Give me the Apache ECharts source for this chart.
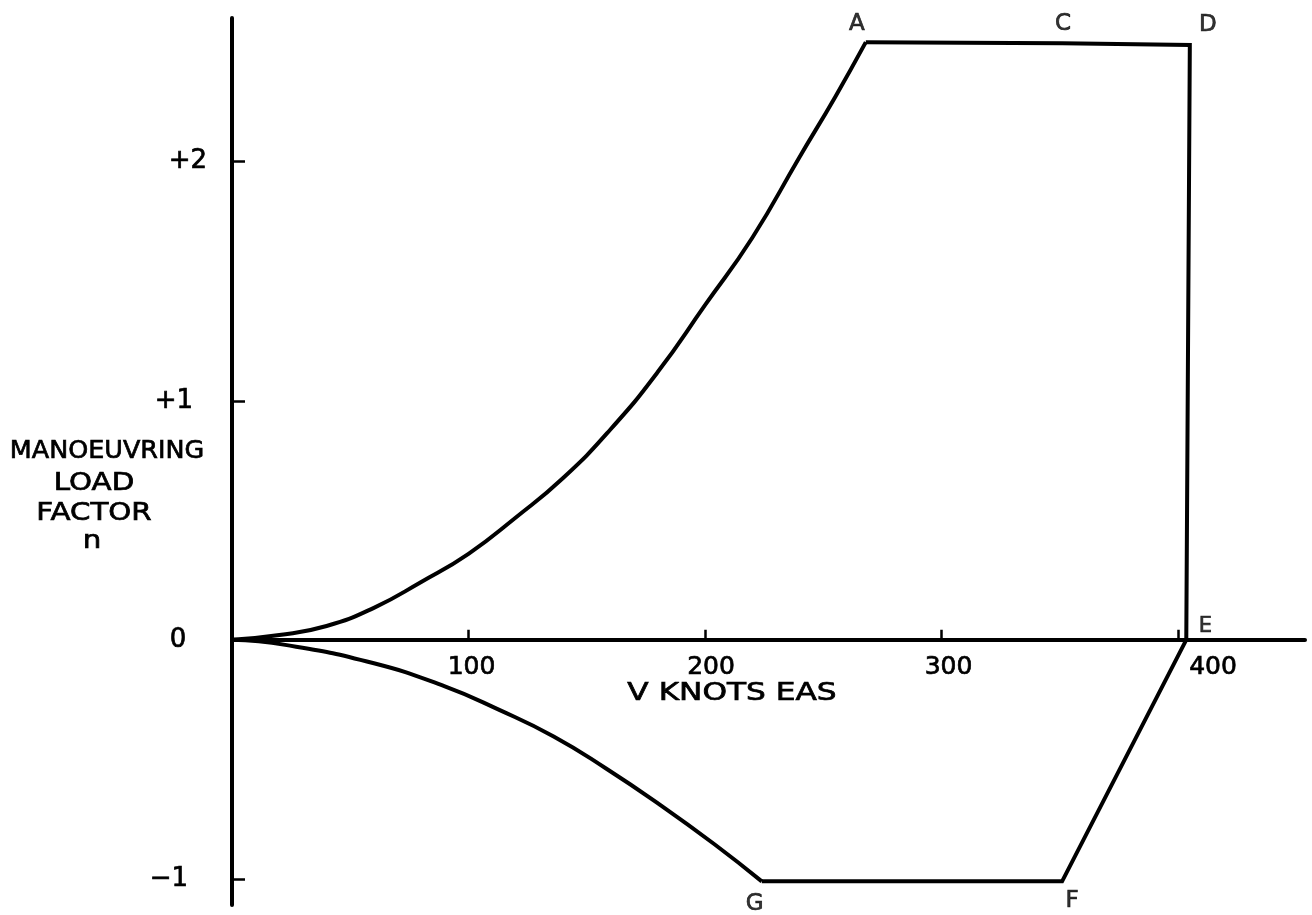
<!DOCTYPE html>
<html>
<head>
<meta charset="utf-8">
<script src="https://cdn.jsdelivr.net/npm/echarts@6/dist/echarts.min.js"></script>
<style>
  html, body { margin: 0; padding: 0; background: #ffffff; }
  #chart { width: 1312px; height: 915px; }
</style>
</head>
<body>
<div id="chart"></div>
<script>
// Positive stall boundary, from the origin up to A (speed in knots EAS, load factor n)
const upperSpeed = [0, 20, 40, 60, 80, 100, 120, 140, 160, 180, 200, 220, 240, 255, 268];
const upperLoad  = [0, 0.02, 0.058, 0.134, 0.242, 0.36, 0.512, 0.677, 0.88, 1.12, 1.40, 1.682, 2.02, 2.27, 2.50];

// Negative stall boundary, from the origin down to G
const lowerSpeed = [0, 22.5, 60, 90, 113, 136, 158, 181, 204, 224];
const lowerLoad  = [0, -0.021, -0.098, -0.195, -0.293, -0.404, -0.537, -0.69, -0.855, -1.01];

// Corners of the flight envelope, traced A -> C -> D -> E -> F -> G
const vertexNames = ['A', 'C', 'D', 'E', 'F', 'G'];
const vertexSpeed = [268, 351, 405, 403.5, 351, 224];
const vertexLoad  = [2.50, 2.495, 2.488, 0, -1.01, -1.01];

// Axis ticks
const speedTicks = [100, 200, 300, 400];
const speedTickLabels = ['100', '200', '300', '400'];
const loadTicks = [-1, 0, 1, 2];
const loadTickLabels = ['\u22121', '0', '+1', '+2'];

// Titles
const loadTitleLines = ['MANOEUVRING', 'LOAD', 'FACTOR', 'n'];
const speedTitle = 'V KNOTS EAS';

const FONT = 'DejaVu Sans';
const INK = '#000000';
const SPEED_MIN = 0, SPEED_MAX = 453.7;
const LOAD_MIN = -1.109, LOAD_MAX = 2.601;

const zip = (xs, ys) => xs.map((x, i) => [x, ys[i]]);

// a faint outline gives the lettering a pen-drawn weight
const penText = { textBorderColor: INK, textBorderWidth: 0.7 };

// hand-lettered labels sit a little off their ticks
const speedLabelShift = [6, 12, 14, 70];       // left padding, px
const loadLabelPad = [[0, 18, 0, 0], [0, 0, 0, 0], [0, 8, 0, 0], [0, 0, 0, 20]];
const vertexLabelOffset = {
  A: [-9, -7], C: [1, -8], D: [18, -8], E: [19, -3], F: [10, 31], G: [-7, 34]
};

const speedRich = {};
speedTicks.forEach((t, i) => {
  speedRich['s' + i] = Object.assign({ fontFamily: FONT, fontSize: 25, color: INK, padding: [0, 0, 0, speedLabelShift[i]] }, penText);
});
const loadRich = {};
loadTicks.forEach((t, i) => {
  loadRich['l' + i] = Object.assign({ fontFamily: FONT, fontSize: 26, color: INK, padding: loadLabelPad[i] }, penText);
});

const chart = echarts.init(document.getElementById('chart'), null, { renderer: 'canvas' });

const curveStyle = { color: INK, width: 4, join: 'miter' };

const option = {
  backgroundColor: '#ffffff',
  animation: false,
  grid: {
    left: 232, top: 18, width: 1073, height: 887,
    containLabel: false,
    outerBoundsMode: 'none'
  },
  xAxis: {
    type: 'value',
    min: SPEED_MIN,
    max: SPEED_MAX,
    offset: 0,
    splitLine: { show: false },
    axisLine: { show: true, onZero: false, lineStyle: { color: INK, width: 4 } },
    axisTick: {
      show: true, inside: true, length: 10,
      customValues: speedTicks,
      lineStyle: { color: INK, width: 2.5 }
    },
    axisLabel: {
      show: true,
      customValues: speedTicks,
      margin: 15,
      hideOverlap: false,
      formatter: (v) => {
        const i = speedTicks.indexOf(v);
        return '{s' + i + '|' + speedTickLabels[i] + '}';
      },
      rich: speedRich
    }
  },
  yAxis: {
    type: 'value',
    min: LOAD_MIN,
    max: LOAD_MAX,
    splitLine: { show: false },
    axisLine: { show: true, onZero: false, lineStyle: { color: INK, width: 4 } },
    axisTick: {
      show: true, inside: true, length: 13,
      customValues: loadTicks,
      lineStyle: { color: INK, width: 2.5 }
    },
    axisLabel: {
      show: true,
      customValues: loadTicks,
      margin: 54,
      align: 'center',
      hideOverlap: false,
      formatter: (v) => {
        const i = loadTicks.indexOf(v);
        return '{l' + i + '|' + loadTickLabels[i] + '}';
      },
      rich: loadRich
    }
  },
  series: [
    {
      name: 'positive stall',
      type: 'line',
      data: zip(upperSpeed, upperLoad),
      smooth: 0.5,
      symbol: 'none',
      lineStyle: curveStyle,
      z: 3
    },
    {
      name: 'envelope',
      type: 'line',
      data: zip(vertexSpeed, vertexLoad),
      smooth: false,
      symbol: 'none',
      lineStyle: curveStyle,
      z: 3
    },
    {
      name: 'negative stall',
      type: 'line',
      data: zip(lowerSpeed, lowerLoad),
      smooth: 0.5,
      symbol: 'none',
      lineStyle: curveStyle,
      z: 3
    },
    {
      name: 'corners',
      type: 'scatter',
      symbolSize: 0,
      itemStyle: { color: INK },
      silent: true,
      data: vertexNames.map((n, i) => ({
        name: n,
        value: [vertexSpeed[i], vertexLoad[i]],
        label: Object.assign({
          show: true,
          position: 'top',
          distance: 0,
          offset: vertexLabelOffset[n],
          formatter: n,
          fontFamily: FONT,
          fontSize: n === 'E' ? 21 : 23,
          color: INK
        }, penText)
      })),
      z: 4
    }
  ],
  graphic: [
    ...loadTitleLines.map((t, i) => ({
      type: 'text',
      x: [107, 94, 94, 92][i],
      y: [452, 484, 514, 542][i],
      scaleX: i === 0 ? 1.06 : 1.22,
      style: {
        text: t,
        fontFamily: FONT,
        fontSize: 24,
        fill: INK,
        stroke: INK,
        lineWidth: 0.7,
        align: 'center',
        verticalAlign: 'middle'
      }
    })),
    {
      type: 'text',
      x: 732,
      y: 694,
      scaleX: 1.3,
      style: {
        text: speedTitle,
        fontFamily: FONT,
        fontSize: 24,
        fill: INK,
        stroke: INK,
        lineWidth: 0.7,
        align: 'center',
        verticalAlign: 'middle'
      }
    }
  ]
};

chart.setOption(option);

// Lift the speed axis (line, ticks and labels) from the bottom of the grid to n = 0
const zeroY = chart.convertToPixel({ yAxisIndex: 0 }, 0);
const bottomY = chart.convertToPixel({ yAxisIndex: 0 }, LOAD_MIN);
chart.setOption({ xAxis: { offset: -(bottomY - zeroY) } });
</script>
</body>
</html>
